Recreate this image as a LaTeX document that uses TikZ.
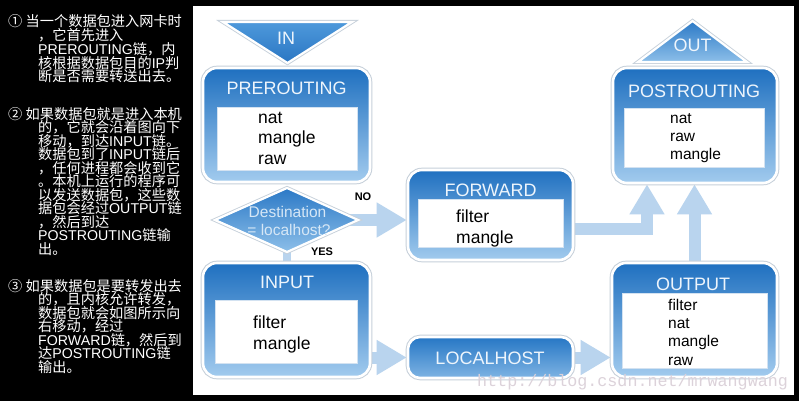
\documentclass[tikz,border=0pt]{standalone}
\usepackage{fontspec}
\setmainfont{Liberation Sans}
\newfontfamily\cjk{Noto Sans CJK SC}
\newfontfamily\latn{Liberation Sans}
\newfontfamily\wmfont{Liberation Mono}
\usetikzlibrary{arrows.meta,calc}
\pgfdeclarelayer{bg}
\pgfdeclarelayer{arr}
\pgfsetlayers{bg,arr,main}
\definecolor{boxtop}{HTML}{1F70C0}
\definecolor{boxbot}{HTML}{A2CBEE}
\definecolor{loctop}{HTML}{2677C5}
\definecolor{locbot}{HTML}{7EB3E3}
\definecolor{intop}{HTML}{4E99DB}
\definecolor{inbot}{HTML}{2A76C3}
\definecolor{dtop}{HTML}{2B79C6}
\definecolor{dbot}{HTML}{8DBFE9}
\definecolor{arrowc}{HTML}{B9D4EE}
\definecolor{headtxt}{HTML}{EEF5FC}
\definecolor{halo}{HTML}{C6D0DA}
\definecolor{inline}{HTML}{D3E2F1}
\definecolor{wmc}{HTML}{DCD2DA}
\definecolor{dtxt}{HTML}{D6E7F6}
\begin{document}
\begin{tikzpicture}[x=1pt,y=-1pt,
  box/.style={rounded corners=14pt, draw=white, line width=2.6pt, top color=boxtop, bottom color=boxbot, preaction={draw=halo, line width=4.6pt}, inner sep=0pt},
  inbox/.style={fill=white, draw=inline, line width=0.8pt, inner sep=0pt},
  head/.style={text=headtxt, font=\fontsize{18}{20}\selectfont, anchor=base, inner sep=0pt},
  item/.style={font=\fontsize{17.5}{20}\selectfont, anchor=base west, inner sep=0pt},
  itemsm/.style={font=\fontsize{15.5}{18}\selectfont, anchor=base west, inner sep=0pt},
  flow/.style={draw=arrowc, line width=12pt, -{Triangle[length=30pt,width=33pt]}},
  cn/.style={text=white, font=\cjk\fontsize{14.2}{14}\selectfont, anchor=base west, inner sep=0pt, text height=10.5pt, text depth=2pt},
  lbl/.style={font=\bfseries\fontsize{11}{12}\selectfont, anchor=center, inner sep=0pt},
  dt/.style={text=dtxt, font=\fontsize{15.5}{17}\selectfont, anchor=base, inner sep=0pt},
]
\useasboundingbox (0,0) rectangle (799,401);
\begin{pgfonlayer}{bg}
\fill[black] (0,0) rectangle (799,401);
\fill[white] (193,6) rectangle (794,395);
\end{pgfonlayer}

% left explanatory text
\node[cn] (n1) at (8,27) {①};
\node[cn] (a1) at (25.5,27) {当一个数据包进入网卡时};
\node[cn] (a2) at (38,40.75) {，它首先进入};
\node[cn] (a3) at (38,54.5) {{\latn PREROUTING}链，内};
\node[cn] (a4) at (38,68.25) {核根据数据包目的{\latn IP}判};
\node[cn] (a5) at (38,82) {断是否需要转送出去。};

\node[cn] (n2) at (8,119) {②};
\node[cn] (b1) at (25.5,119) {如果数据包就是进入本机};
\node[cn] (b2) at (38,132.5) {的，它就会沿着图向下};
\node[cn] (b3) at (38,146) {移动，到达{\latn INPUT}链。};
\node[cn] (b4) at (38,159.5) {数据包到了{\latn INPUT}链后};
\node[cn] (b5) at (38,173) {，任何进程都会收到它};
\node[cn] (b6) at (38,186.5) {。本机上运行的程序可};
\node[cn] (b7) at (38,200) {以发送数据包，这些数};
\node[cn] (b8) at (38,213.5) {据包会经过{\latn OUTPUT}链};
\node[cn] (b9) at (38,227) {，然后到达};
\node[cn] (b10) at (38,240.5) {{\latn POSTROUTING}链输};
\node[cn] (b11) at (38,254) {出。};

\node[cn] (n3) at (8,291) {③};
\node[cn] (c1) at (25.5,291) {如果数据包是要转发出去};
\node[cn] (c2) at (38,304.5) {的，且内核允许转发，};
\node[cn] (c3) at (38,318) {数据包就会如图所示向};
\node[cn] (c4) at (38,331.5) {右移动，经过};
\node[cn] (c5) at (38,345) {{\latn FORWARD}链，然后到};
\node[cn] (c6) at (38,358.5) {达{\latn POSTROUTING}链};
\node[cn] (c7) at (38,372) {输出。};

% triangles
\draw[draw=white, line width=2.2pt, top color=intop, bottom color=inbot, preaction={draw=halo, line width=4pt}] (223,22) -- (352,22) -- (287.5,63) -- cycle;
\node[head] (inH) at (286,45) {IN};
\draw[draw=white, line width=2.2pt, top color=dtop, bottom color=dbot, preaction={draw=halo, line width=4pt}] (692.5,21) -- (747,62) -- (638,62) -- cycle;
\node[head] (outH) at (692.5,52) {OUT};

% boxes
\node[box, minimum width=167pt, minimum height=114pt] (pre) at (286.5,125) {};
\node[inbox, minimum width=140pt, minimum height=63pt] (preIn) at (287,138.5) {};
\node[head] (preH) at (286.7,95) {PREROUTING};
\node[item] (pre1) at (258,123) {nat};
\node[item] (pre2) at (258,143.5) {mangle};
\node[item] (pre3) at (258,164) {raw};

\node[box, minimum width=167pt, minimum height=114pt] (inp) at (286.5,320) {};
\node[inbox, minimum width=142pt, minimum height=63pt] (inpIn) at (286,331.5) {};
\node[head] (inpH) at (287,288) {INPUT};
\node[item] (inp1) at (253,328.5) {filter};
\node[item] (inp2) at (253,349.5) {mangle};

\node[box, minimum width=165pt, minimum height=90pt] (fwd) at (490.5,215) {};
\node[inbox, minimum width=145pt, minimum height=48pt] (fwdIn) at (490.5,223) {};
\node[head] (fwdH) at (490.5,196) {FORWARD};
\node[item] (fwd1) at (456,222) {filter};
\node[item] (fwd2) at (456,243) {mangle};

\node[box, top color=loctop, bottom color=locbot, rounded corners=12pt, minimum width=165pt, minimum height=41pt] (loc) at (490.5,357.5) {};
\node[head] (locH) at (490,364) {LOCALHOST};

\node[box, minimum width=164pt, minimum height=115pt] (post) at (695,125.5) {};
\node[inbox, minimum width=140pt, minimum height=59pt] (postIn) at (694,137.5) {};
\node[head] (postH) at (694,98) {POSTROUTING};
\node[itemsm] (post1) at (670,123) {nat};
\node[itemsm] (post2) at (670,141) {raw};
\node[itemsm] (post3) at (670,159) {mangle};

\node[box, minimum width=165pt, minimum height=114pt] (outp) at (694.5,320) {};
\node[inbox, minimum width=145pt, minimum height=75pt] (outpIn) at (694.5,330.5) {};
\node[head] (outpH) at (693,290) {OUTPUT};
\node[itemsm] (outp1) at (668,310) {filter};
\node[itemsm] (outp2) at (668,328.3) {nat};
\node[itemsm] (outp3) at (668,346.6) {mangle};
\node[itemsm] (outp4) at (668,365) {raw};

% decision diamond
\coordinate (dN) at (287,188);
\coordinate (dE) at (358,220);
\coordinate (dS) at (287,252);
\coordinate (dW) at (215,220);
\draw[draw=white, line width=2.2pt, top color=dtop, bottom color=dbot, preaction={draw=halo, line width=4pt}] (dW) -- (dN) -- (dE) -- (dS) -- cycle;
\node[dt] (dt1) at (287.5,217) {Destination};
\node[dt] (dt2) at (289,235) {= localhost?};
\node[lbl] (no) at (363,197) {NO};
\node[lbl] (yes) at (322,252) {YES};

% connectors
\begin{pgfonlayer}{arr}
\draw[flow] ([xshift=-12pt]dE) -- (dE -| fwd.west);
\draw[draw=arrowc, line width=8pt] ([yshift=6pt]dS) -- (dS |- inp.north);
\draw[flow] ([xshift=-8pt]inp.east |- loc.west) -- (loc.west);
\draw[flow] ([xshift=-8pt]loc.east) -- (loc.east -| outp.west);
\draw[flow] ([xshift=-10pt,yshift=-14pt]fwd.east) -| ([xshift=-48pt]post.south);
\draw[flow] ([yshift=-8pt]outp.north) -- (outp.north |- post.south);
\end{pgfonlayer}

% watermark
\node[font=\wmfont\fontsize{16.7}{18}\selectfont, text=wmc, anchor=base west, inner sep=0pt] (wm) at (477,386) {http://blog.csdn.net/mrwangwang};
\end{tikzpicture}
\end{document}
